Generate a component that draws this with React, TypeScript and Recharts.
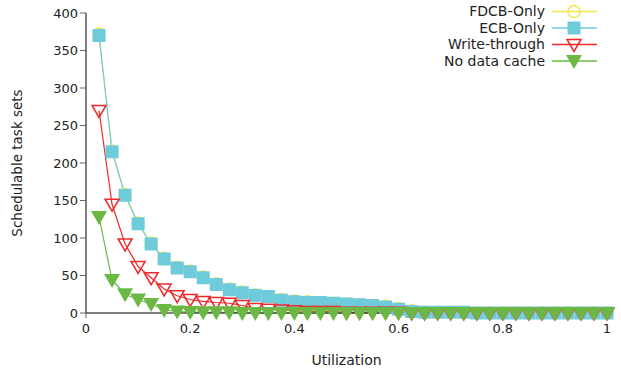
import React from "react";
import { LineChart, Line, XAxis, YAxis } from "recharts";

const utilization = [
  0.025, 0.05, 0.075, 0.1, 0.125, 0.15, 0.175, 0.2, 0.225, 0.25,
  0.275, 0.3, 0.325, 0.35, 0.375, 0.4, 0.425, 0.45, 0.475, 0.5,
  0.525, 0.55, 0.575, 0.6, 0.625, 0.65, 0.675, 0.7, 0.725, 0.75,
  0.775, 0.8, 0.825, 0.85, 0.875, 0.9, 0.925, 0.95, 0.975, 1.0,
];

const fdcbOnly = [
  372, 216, 158, 120, 93, 73, 61, 56, 48, 39,
  32, 28, 24, 22, 18, 16, 15, 14, 13, 12,
  11, 10, 9, 6, 3, 1, 1, 1, 1, 0,
  0, 0, 0, 0, 0, 0, 0, 0, 0, 0,
];

const ecbOnly = [
  370, 215, 157, 119, 92, 72, 60, 55, 47, 38,
  31, 27, 23.5, 22, 17, 15, 14, 14, 13, 12,
  11, 10, 8, 5, 2, 1, 1, 1, 1, 0,
  0, 0, 0, 0, 0, 0, 0, 0, 0, 0,
];

const writeThrough = [
  270, 145, 92, 62, 47, 32, 23, 18, 15.5, 14,
  13, 10, 6, 5, 4, 3, 2, 2, 2, 1,
  1, 1, 1, 1, 0, 0, 0, 0, 0, 0,
  0, 0, 0, 0, 0, 0, 0, 0, 0, 0,
];

const noDataCache = [
  128, 44, 25, 18, 12, 4, 2, 1.5, 1, 1,
  1, 0, 0, 0, 0, 0, 0, 0, 0, 0,
  0, 0, 0, 0, 0, 0, 0, 0, 0, 0,
  0, 0, 0, 0, 0, 0, 0, 0, 0, 0,
];

const xTicks = [0, 0.2, 0.4, 0.6, 0.8, 1];
const yTicks = [0, 50, 100, 150, 200, 250, 300, 350, 400];

const YELLOW = "#f3e64a";
const BLUE = "#6ecbdc";
const RED = "#ee2a2a";
const GREEN = "#6bb944";

const data = utilization.map((u, i) => ({
  u,
  fdcb: fdcbOnly[i],
  ecb: ecbOnly[i],
  wt: writeThrough[i],
  ndc: noDataCache[i],
}));

const font = "'DejaVu Sans', sans-serif";

const circleDot = (p: any) => (
  <circle key={p.index} cx={p.cx} cy={p.cy} r={6} fill="none" stroke={YELLOW} strokeWidth={1.5} />
);
const squareDot = (p: any) => (
  <rect key={p.index} x={p.cx - 6.5} y={p.cy - 6.5} width={13} height={13} fill={BLUE} />
);
const openTri = (p: any) => (
  <path
    key={p.index}
    d={`M${p.cx - 7},${p.cy - 5} L${p.cx + 7},${p.cy - 5} L${p.cx},${p.cy + 7} Z`}
    fill="none"
    stroke={RED}
    strokeWidth={1.5}
  />
);
const fillTri = (p: any) => (
  <path
    key={p.index}
    d={`M${p.cx - 8},${p.cy - 6} L${p.cx + 8},${p.cy - 6} L${p.cx},${p.cy + 8} Z`}
    fill={GREEN}
  />
);

const legendItems = [
  { label: "FDCB-Only", color: YELLOW, mark: circleDot },
  { label: "ECB-Only", color: BLUE, mark: squareDot },
  { label: "Write-through", color: RED, mark: openTri },
  { label: "No data cache", color: GREEN, mark: fillTri },
];

const LegendBox = () => (
  <svg width={210} height={72} style={{ position: "absolute", left: 400, top: 0 }}>
    {legendItems.map((it, i) => {
      const y = 11.5 + i * 16.5;
      return (
        <g key={it.label}>
          <text x={145} y={y} dy="0.35em" textAnchor="end" fontSize={14} fill="#222" fontFamily={font}>
            {it.label}
          </text>
          <line x1={152} x2={197} y1={y} y2={y} stroke={it.color} strokeWidth={1.5} />
          {it.mark({ cx: 174, cy: y, index: i })}
        </g>
      );
    })}
  </svg>
);

export default function App() {
  return (
    <div style={{ position: "absolute", left: 0, top: 0, width: 621, height: 372 }}>
      <LineChart width={621} height={372} data={data} margin={{ top: 13, right: 14, left: 0, bottom: 9 }}>
        <XAxis
          dataKey="u"
          type="number"
          domain={[0, 1]}
          ticks={xTicks}
          tickFormatter={(v: number) => String(v)}
          stroke="#000"
          tickSize={5}
          tickLine={{ stroke: "#666" }}
          tick={{ fontSize: 13, fill: "#222", fontFamily: font, dy: 4 }}
          height={50}
          label={{ value: "Utilization", position: "insideBottom", offset: -2, fontSize: 14, fill: "#222", fontFamily: font }}
        />
        <YAxis
          type="number"
          domain={[0, 400]}
          ticks={yTicks}
          stroke="#000"
          tickSize={6}
          tickLine={{ stroke: "#666" }}
          tick={{ fontSize: 13, fill: "#222", fontFamily: font }}
          width={86}
          label={{
            value: "Schedulable task sets",
            angle: -90,
            position: "insideLeft",
            offset: 17,
            style: { textAnchor: "middle" },
            fontSize: 13.5,
            fill: "#222",
            fontFamily: font,
          }}
        />
        <Line dataKey="fdcb" stroke={YELLOW} strokeWidth={1.2} dot={circleDot} isAnimationActive={false} />
        <Line dataKey="ecb" stroke={BLUE} strokeWidth={1.2} dot={squareDot} isAnimationActive={false} />
        <Line dataKey="wt" stroke={RED} strokeWidth={1.2} dot={openTri} isAnimationActive={false} />
        <Line dataKey="ndc" stroke={GREEN} strokeWidth={1.2} dot={fillTri} isAnimationActive={false} />
      </LineChart>
      <LegendBox />
    </div>
  );
}
